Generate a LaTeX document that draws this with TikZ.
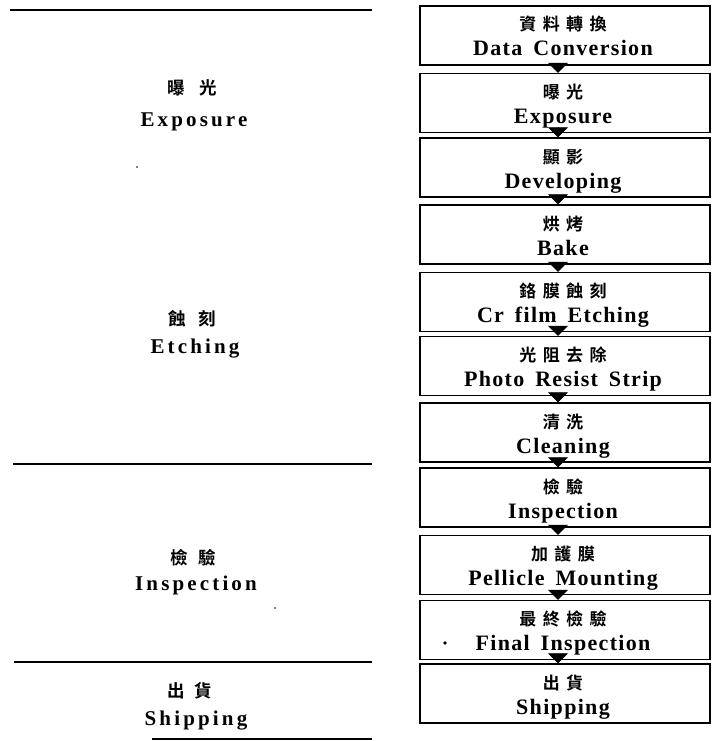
\documentclass[tikz,border=0pt]{standalone}
\usepackage{fontspec}
\setmainfont{Liberation Serif}
\newfontfamily\enR[LetterSpace=6,WordSpace=1.6]{Liberation Serif Bold}
\newfontfamily\enL[LetterSpace=15]{Liberation Serif Bold}
\newfontfamily\zhR[LetterSpace=38]{Noto Sans CJK TC Bold}
\newfontfamily\zhL{Noto Sans CJK TC Bold}
\usetikzlibrary{arrows.meta}
\tikzset{
  stepbox/.style={draw, line width=1.4pt, minimum width=290pt, minimum height=59pt, inner sep=0pt},
  zhtext/.style={font=\zhR\fontsize{17}{17}\selectfont, inner sep=0pt, anchor=base},
  entext/.style={font=\enR\fontsize{22}{22}\selectfont, inner sep=0pt, anchor=base},
  zhleft/.style={font=\zhL\fontsize{17.5}{17.5}\selectfont, inner sep=0pt, anchor=base},
  enleft/.style={font=\enL\fontsize{21}{21}\selectfont, inner sep=0pt, anchor=base},
  flowarrow/.style={line width=0.8pt, -{Triangle[width=20pt,length=10pt]}},
  rule/.style={line width=2pt}
}
\begin{document}
\begin{tikzpicture}[x=1pt,y=-1pt]
\useasboundingbox (0,0) rectangle (713,741);
% right flow boxes
\foreach \i/\yy/\zh/\en in {
  1/35.5/資料轉換/Data Conversion,
  2/103/曝光/Exposure,
  3/167.5/顯影/Developing,
  4/234.5/烘烤/Bake,
  5/302/鉻膜蝕刻/Cr film Etching,
  6/366/光阻去除/Photo Resist Strip,
  7/432.5/清洗/Cleaning,
  8/497.5/檢驗/Inspection,
  9/565/加護膜/Pellicle Mounting,
  10/630/最終檢驗/Final Inspection,
  11/693.5/出貨/Shipping}{
  \node[stepbox] (b\i) at (565,\yy) {};
  \node[zhtext] (z\i) at ([xshift=-2pt,yshift=4.5pt]b\i.center) {\zh};
  \node[entext] (e\i) at ([xshift=-2pt,yshift=-20.5pt]b\i.center) {\en};
}
\foreach \a/\b in {1/2,2/3,3/4,4/5,5/6,6/7,7/8,8/9,9/10,10/11}{
  \draw[flowarrow] ([xshift=-7pt]b\a.south) -- ([xshift=-7pt]b\b.north);
}
% left stage rules
\coordinate (r1a) at (10,10);  \coordinate (r1b) at (372,10);
\coordinate (r2a) at (13,464); \coordinate (r2b) at (372,464);
\coordinate (r3a) at (14,662); \coordinate (r3b) at (372,662);
\coordinate (r4a) at (152,739); \coordinate (r4b) at (372,739);
\draw[rule] (r1a) -- (r1b);
\draw[rule] (r2a) -- (r2b);
\draw[rule] (r3a) -- (r3b);
\draw[rule] (r4a) -- (r4b);
% left stage labels
\node[zhleft] (lz1) at (192,95) {曝\hspace{15pt}光};
\node[enleft] (le1) at (194,126) {Exposure};
\node[zhleft] (lz2) at (192,325) {蝕\hspace{13pt}刻};
\node[enleft] (le2) at (195,353) {Etching};
\node[zhleft] (lz3) at (193,564) {檢\hspace{11pt}驗};
\node[enleft] (le3) at (196,590) {Inspection};
\node[zhleft] (lz4) at (190,697) {出\hspace{10pt}貨};
\node[enleft] (le4) at (196,725) {Shipping};
% specks
\fill (445,643) circle (1.8pt);
\fill (137,167) circle (0.8pt);
\fill (275,608) circle (0.8pt);
\end{tikzpicture}
\end{document}
